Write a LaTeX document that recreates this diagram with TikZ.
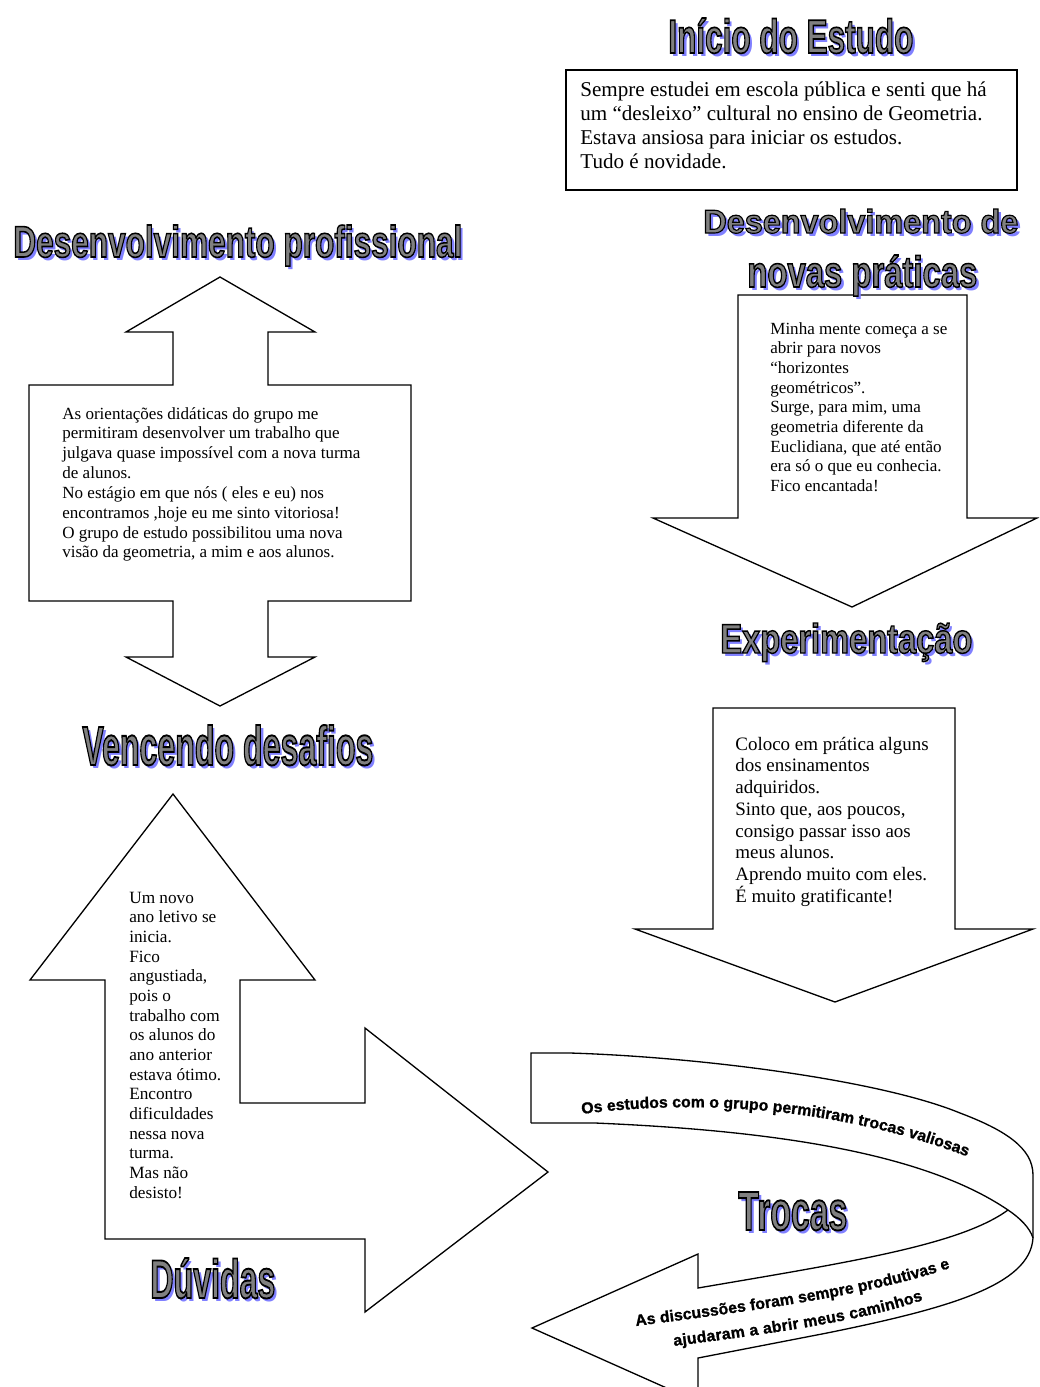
\documentclass[tikz,border=0pt]{standalone}
\usepackage{fontspec}
\setmainfont{Liberation Serif}
\newfontfamily\artfont{Liberation Sans}
\newfontfamily\heavyfont{Liberation Sans Bold}[FakeBold=1.2]
\usepackage{graphicx}
\usetikzlibrary{decorations.text}
\definecolor{shadowblue}{RGB}{128,128,255}
\definecolor{artgray}{gray}{0.5}
\newlength\pxunit
\setlength\pxunit{0.02cm}
\newcommand{\arttext}[3]{\resizebox{#1\pxunit}{#2\pxunit}{\artfont\bfseries #3}}
\newcommand{\stroked}[1]{\special{pdf:code 2 Tr 0.35 w 0 G}#1\special{pdf:code 0 Tr}}
\newcommand{\ribbonfont}{\heavyfont\fontsize{9}{10}\selectfont}
\newcommand{\arttitle}[6]{%
  \node[artshadow] at (#2+3,#3+3) {\arttext{#4}{#5}{#6}};
  \node[arttitle] (#1) at (#2,#3) {\arttext{#4}{#5}{\stroked{#6}}};}
\tikzset{
  outline/.style={draw=black, line width=0.75pt, line join=miter},
  body/.style={anchor=base west, inner sep=0pt},
  arttitle/.style={anchor=base west, inner sep=0pt, text=artgray},
  artshadow/.style={anchor=base west, inner sep=0pt, text=shadowblue},
}

\begin{document}
\begin{tikzpicture}[x=0.02cm, y=-0.02cm]
\useasboundingbox (0,0) rectangle (1039,1387);
\clip (0,0) rectangle (1039,1387);

\draw[outline] (566,70) rectangle (1017,190);
\draw[outline] (220,277) -- (315,332) -- (268,332) -- (268,385) -- (411,385) -- (411,601) -- (268,601) -- (268,657) -- (315,657) -- (220,706) -- (126,657) -- (173,657) -- (173,601) -- (29,601) -- (29,385) -- (173,385) -- (173,332) -- (126,332) -- cycle;
\draw[outline] (738,295) -- (967,295) -- (967,518) -- (1037,518) -- (852,607) -- (653,518) -- (738,518) -- cycle;
\draw[outline] (713,708) -- (955,708) -- (955,929) -- (1033,929) -- (835,1002) -- (635,929) -- (713,929) -- cycle;
\draw[outline] (173,794) -- (315,980) -- (240,980) -- (240,1103) -- (365,1103) -- (365,1028) -- (548,1172) -- (365,1312) -- (365,1239) -- (105,1239) -- (105,980) -- (30,980) -- cycle;
\draw[outline] (531,1123) -- (531,1053) -- (570,1053) .. controls (700,1057) and (880,1080) .. (960,1113) .. controls (1005,1130) and (1033,1148) .. (1033,1175) -- (1033,1238) .. controls (1030,1285) and (950,1308) .. (827,1333) -- (698,1358) -- (698,1402) -- (532,1328) -- (698,1254) -- (698,1288) .. controls (850,1262) and (960,1245) .. (1008,1210);
\draw[outline] (531,1123) -- (595,1123) .. controls (760,1130) and (920,1150) .. (1008,1210) .. controls (1020,1218) and (1030,1228) .. (1033,1238);

\arttitle{inicio}{668}{53}{245}{35}{Início do Estudo}
\arttitle{profissional}{13}{257}{449}{32}{Desenvolvimento profissional}
\arttitle{praticas1}{703}{233}{315}{24}{Desenvolvimento de}
\arttitle{praticas2}{747}{287}{230}{32}{novas práticas}
\arttitle{experimento}{720}{653}{252}{30}{Experimentação}
\arttitle{desafios}{82}{765}{291}{40}{Vencendo desafios}
\arttitle{duvidas}{150}{1298}{125}{40}{Dúvidas}
\arttitle{trocas}{738}{1230}{109}{38}{Trocas}

\node[body, font=\fontsize{12}{13.8}\selectfont] (estudo) at (580,96) {\parbox[t]{9cm}{Sempre estudei em escola pública e senti que há\\um “desleixo” cultural no ensino de Geometria.\\Estava ansiosa para iniciar os estudos.\\Tudo é novidade.}};
\node[body, font=\fontsize{9.7}{11.3}\selectfont] (orientacoes) at (62,419) {\parbox[t]{7cm}{As orientações didáticas do grupo me\\permitiram desenvolver um trabalho que\\julgava quase impossível com a nova turma\\de alunos.\\No estágio em que nós ( eles e eu) nos\\encontramos ,hoje eu me sinto vitoriosa!\\O grupo de estudo possibilitou uma nova\\visão da geometria, a mim e aos alunos.}};
\node[body, font=\fontsize{9.7}{11.2}\selectfont] (mente) at (770,334) {\parbox[t]{4cm}{Minha mente começa a se\\abrir para novos\\“horizontes\\geométricos”.\\Surge, para mim, uma\\geometria diferente da\\Euclidiana, que até então\\era só o que eu conhecia.\\Fico encantada!}};
\node[body, font=\fontsize{10.8}{12.4}\selectfont] (pratica) at (735,750) {\parbox[t]{4.5cm}{Coloco em prática alguns\\dos ensinamentos\\adquiridos.\\Sinto que, aos poucos,\\consigo passar isso aos\\meus alunos.\\Aprendo muito com eles.\\É muito gratificante!}};
\node[body, font=\fontsize{9.8}{11.2}\selectfont] (anoletivo) at (129,903) {\parbox[t]{2.5cm}{Um novo\\ano letivo se\\inicia.\\Fico\\angustiada,\\pois o\\trabalho com\\os alunos do\\ano anterior\\estava ótimo.\\Encontro\\dificuldades\\nessa nova\\turma.\\Mas não\\desisto!}};

\path[decorate, decoration={text along path, text align=fit to path, text={|\ribbonfont|Os estudos com o grupo permitiram trocas valiosas}}] (582,1114) .. controls (690,1100) and (830,1105) .. (966,1156);
\path[decorate, decoration={text along path, text align=fit to path, text={|\ribbonfont|As discussões foram sempre produtivas e}}] (636,1326) .. controls (760,1310) and (870,1295) .. (950,1268);
\path[decorate, decoration={text along path, text align=fit to path, text={|\ribbonfont|ajudaram a abrir meus caminhos}}] (674,1346) .. controls (760,1335) and (860,1322) .. (923,1300);
\end{tikzpicture}
\end{document}
